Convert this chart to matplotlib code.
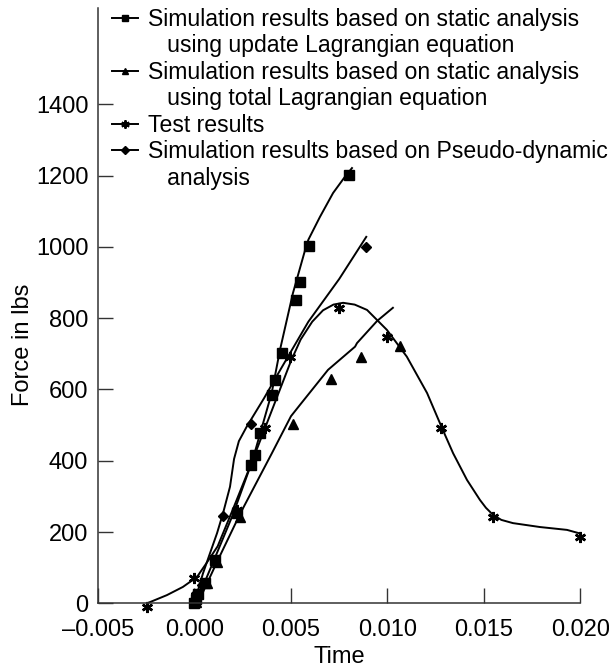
"""Force vs time: static / pseudo-dynamic simulations against test results."""

import matplotlib

matplotlib.use("Agg")
import matplotlib.pyplot as plt
from matplotlib.lines import Line2D

plt.rcParams["font.family"] = ["Liberation Sans", "DejaVu Sans"]

# ---- data -----------------------------------------------------------------
# update Lagrangian (squares)
ul_line_t = [0.0000, 0.0003, 0.0010, 0.0020, 0.0030, 0.0040, 0.00443, 0.0051,
             0.00573, 0.0059, 0.0065, 0.00718, 0.0078, 0.00816]
ul_line_f = [0, 30, 120, 250, 400, 590, 711, 870, 991, 1020, 1084, 1151, 1197, 1221]
ul_mark_t = [0.0000, 0.0001, 0.0002, 0.00054, 0.00106, 0.0022, 0.00293, 0.00313,
             0.0034, 0.00402, 0.00417, 0.00453, 0.00526, 0.00547, 0.00593, 0.0080]
ul_mark_f = [0, 12, 25, 57, 122, 253, 388, 416, 478, 585, 627, 702, 851, 902, 1003, 1202]

# total Lagrangian (triangles)
tl_line_t = [0.0003, 0.0012, 0.0024, 0.0040, 0.0050, 0.00547, 0.00692, 0.00832,
             0.00842, 0.00946, 0.01028]
tl_line_f = [15, 120, 255, 420, 525, 557, 655, 720, 730, 792, 829]
tl_mark_t = [0.0001, 0.00065, 0.00117, 0.00236, 0.0051, 0.00707, 0.00863, 0.01065]
tl_mark_f = [5, 57, 116, 242, 502, 628, 692, 723]

# test results (stars)
test_line_t = [-0.00246, -0.00143, -0.0006, 0.00013, 0.00065, 0.0012, 0.0020,
               0.0030, 0.0040, 0.0050, 0.0055, 0.0061, 0.00666, 0.0072, 0.0077,
               0.0083, 0.00894, 0.00997, 0.0110, 0.01205, 0.01287, 0.0134,
               0.01412, 0.01479, 0.0151, 0.01547, 0.0159, 0.0165, 0.0179,
               0.0193, 0.0199]
test_line_f = [0, 23, 46, 74, 115, 160, 265, 400, 540, 680, 740, 790, 822, 838,
               843, 838, 823, 767, 692, 590, 486, 421, 346, 290, 268, 248, 234,
               225, 214, 206, 197]
test_mark_t = [-0.00246, 0.0000, 0.0000, 0.0001, 0.0022, 0.00365, 0.00495,
               0.00749, 0.00997, 0.01277, 0.01547, 0.0200]
test_mark_f = [-10, 71, 5, 22, 262, 492, 692, 829, 748, 491, 242, 186]

# pseudo-dynamic (diamonds)
pd_line_t = [0.0002, 0.00044, 0.0008, 0.00117, 0.00148, 0.00184, 0.00205,
             0.0023, 0.0027, 0.0036, 0.0045, 0.0059, 0.0075, 0.0089]
pd_line_f = [40, 84, 140, 197, 253, 327, 405, 455, 495, 575, 660, 790, 910, 1028]
pd_mark_t = [0.0000, 0.0004, 0.00148, 0.00293, 0.00889]
pd_mark_f = [10, 50, 245, 503, 1000]

labels = [
    "Simulation results based on static analysis",
    "   using update Lagrangian equation",
    "Simulation results based on static analysis",
    "   using total Lagrangian equation",
    "Test results",
    "Simulation results based on Pseudo-dynamic",
    "   analysis",
]

STAR = (6, 2, 0)
LW = 1.4
FS = 16.6

fig = plt.figure(figsize=(6.09, 6.72), dpi=100)
ax = fig.add_axes([0.1609, 0.1022, 0.7923, 0.8859])

ax.plot(ul_line_t, ul_line_f, color="black", lw=LW, clip_on=False)
ax.plot(ul_mark_t, ul_mark_f, "s", color="black", ms=6.5, clip_on=False)

ax.plot(tl_line_t, tl_line_f, color="black", lw=LW, clip_on=False)
ax.plot(tl_mark_t, tl_mark_f, "^", color="black", ms=7.5, clip_on=False)

ax.plot(test_line_t, test_line_f, color="black", lw=LW, clip_on=False)
ax.plot(test_mark_t, test_mark_f, linestyle="none", marker=STAR, color="black",
        ms=8, mew=1.8, clip_on=False)

ax.plot(pd_line_t, pd_line_f, color="black", lw=LW, clip_on=False)
ax.plot(pd_mark_t, pd_mark_f, "D", color="black", ms=5.5, clip_on=False)

ax.set_xlim(-0.005, 0.020)
ax.set_ylim(0, 1670)
ax.set_xticks([-0.005, 0.000, 0.005, 0.010, 0.015, 0.020])
ax.set_xticklabels(["\u20130.005", "0.000", "0.005", "0.010", "0.015", "0.020"])
ax.set_yticks([0, 200, 400, 600, 800, 1000, 1200, 1400])
ax.tick_params(direction="in", length=11, width=1.0, labelsize=17,
               color="#333333")
ax.tick_params(axis="x", pad=11)
ax.tick_params(axis="y", pad=7)
for side in ("top", "right"):
    ax.spines[side].set_visible(False)
for side in ("left", "bottom"):
    ax.spines[side].set_linewidth(1.1)
    ax.spines[side].set_color("#333333")

ax.set_xlabel("Time", fontsize=17, labelpad=4)
ax.set_ylabel("Force in lbs", fontsize=17)
ax.yaxis.set_label_coords(-0.133, 0.434)

blank = Line2D([], [], linestyle="none")
handles = [
    Line2D([], [], color="black", lw=LW, marker="s", ms=4.5),
    blank,
    Line2D([], [], color="black", lw=LW, marker="^", ms=5),
    blank,
    Line2D([], [], color="black", lw=LW, marker=STAR, ms=6, mew=1.4),
    Line2D([], [], color="black", lw=LW, marker="D", ms=4),
    blank,
]
ax.legend(handles, labels, loc="upper left", bbox_to_anchor=(0.03, 1.0),
          frameon=False, fontsize=FS, labelspacing=0.15, handlelength=1.1,
          handletextpad=0.45, borderpad=0, borderaxespad=0)

fig.savefig("out.png", dpi=100, facecolor="white")
